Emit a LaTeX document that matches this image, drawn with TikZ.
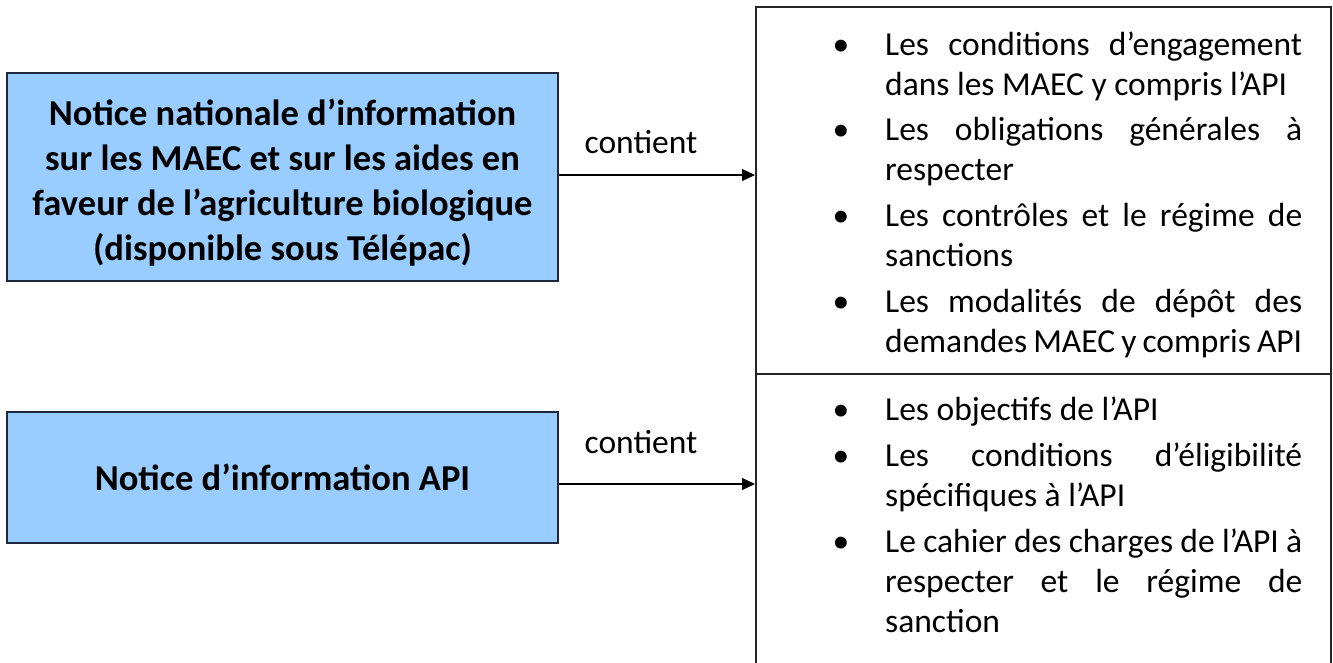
\documentclass[tikz,border=0pt]{standalone}
\usepackage{fontspec}
\setmainfont{Carlito}
\usepackage{enumitem}
\usetikzlibrary{arrows.meta}

\definecolor{boxblue}{RGB}{153,204,255}
\definecolor{boxline}{RGB}{30,40,60}

\begin{document}
\begin{tikzpicture}[x=1pt,y=-1pt,
    notice/.style={draw=boxline, line width=1.5pt, fill=boxblue, minimum width=551pt,
        align=center, font=\fontsize{36.5}{45}\selectfont\bfseries},
    frame/.style={draw=black!85, line width=1.6pt, minimum width=575pt, inner sep=0pt, anchor=north west},
    listtext/.style={text width=519pt, inner sep=0pt, align=justify, anchor=north west,
        font=\fontsize{33.5}{40}\selectfont},
    link/.style={-{Triangle[length=13pt,width=12pt]}, line width=1.2pt},
    word/.style={font=\fontsize{33.5}{40}\selectfont}]
    \def\bw{1333}   % Width of the picture
    \def\bh{662}    % Height of the picture
    \hyphenpenalty=10000
    \tolerance=10000
    \setlist[itemize]{label=\textbullet, leftmargin=102pt, labelsep=36pt, nosep, itemsep=5.7pt}

    \useasboundingbox (0,0) rectangle (\bw,\bh);

    % Left boxes
    \node[notice, minimum height=208pt] (nat) at (282.5,177)
        {\rule{0pt}{38pt}Notice nationale d’information\\sur les MAEC et sur les aides en\\faveur de l’agriculture biologique\\(disponible sous Télépac)};
    \node[notice, minimum height=131pt] (api) at (282.5,477.5) {Notice d’information API};

    % Right box, cut by the bottom of the page
    \node[frame, minimum height=367pt] (engage) at (755,6) {};
    \node[frame, minimum height=320pt] (detail) at (755,373) {};

    % Lists in the right box
    \node[listtext] (engagelist) at ([xshift=28pt,yshift=-9pt]engage.north west) {%
        \begin{itemize}
        \item Les conditions d’engagement\linebreak dans les MAEC y compris l’API
        \item Les obligations générales à\linebreak respecter
        \item Les contrôles et le régime de\linebreak sanctions
        \item Les modalités de dépôt des\linebreak demandes MAEC y compris API
        \end{itemize}};
    \node[listtext] (detaillist) at ([xshift=28pt,yshift=-7.6pt]detail.north west) {%
        \begin{itemize}
        \item Les objectifs de l’API
        \item Les conditions d’éligibilité\linebreak spécifiques à l’API
        \item Le cahier des charges de l’API à\linebreak respecter et le régime de\linebreak sanction
        \end{itemize}};

    % Arrows
    \draw[link] ([yshift=2pt]nat.east) -- ([yshift=2pt]nat.east -| engage.west);
    \draw[link] ([yshift=-6.5pt]api.east) -- ([yshift=-6.5pt]api.east -| detail.west);

    % Labels of the arrows
    \node[word] (has1) at (641,142) {contient};
    \node[word] (has2) at (641,442) {contient};
\end{tikzpicture}
\end{document}
